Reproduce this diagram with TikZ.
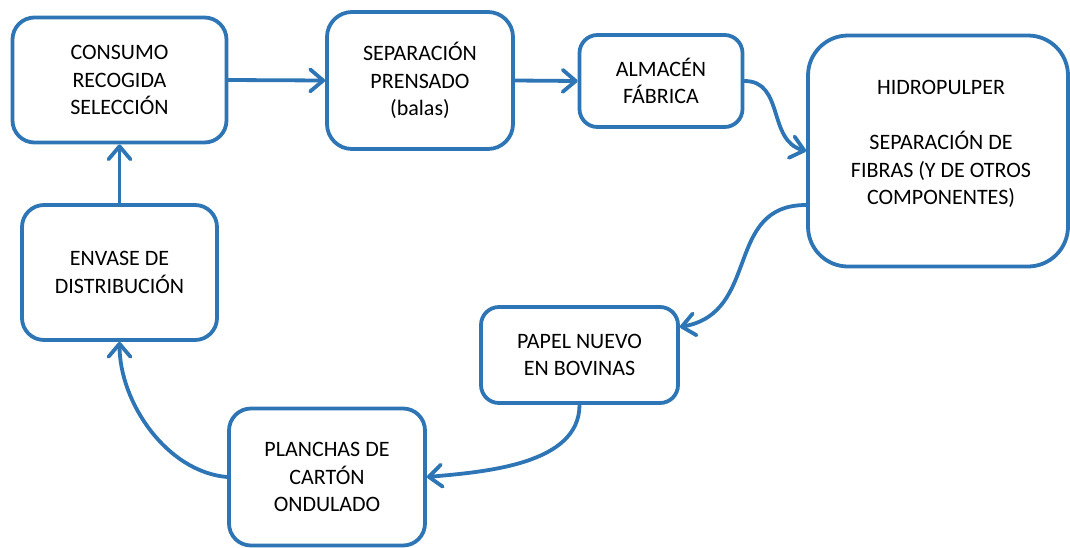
\documentclass[tikz,border=0pt]{standalone}
\usepackage{fontspec}
\setmainfont{Carlito}
\usetikzlibrary{arrows.meta}
\definecolor{flowblue}{HTML}{2E75B6}
\begin{document}
\begin{tikzpicture}[x=1pt,y=-1pt,
  box/.style={draw=flowblue,line width=3.8pt,fill=white,align=center,
    font=\fontsize{22}{27.5}\selectfont,inner sep=0pt},
  txt/.style={align=center,font=\fontsize{22}{27.5}\selectfont,inner sep=0pt},
  flow/.style={draw=flowblue,line width=3.8pt,line cap=round,
    -{Straight Barb[length=13pt,width=22pt,line cap=round,line join=round]}}]
\useasboundingbox (0,0) rectangle (1070,547);
\node[box,minimum width=214pt,minimum height=125pt,rounded corners=22pt] (cons) at (119.5,80) {CONSUMO\\RECOGIDA\\SELECCIÓN};
\node[box,minimum width=186pt,minimum height=137pt,rounded corners=25pt] (sep) at (420,80.5) {SEPARACIÓN\\PRENSADO\\(balas)};
\node[box,minimum width=163pt,minimum height=92pt,rounded corners=18pt] (alm) at (661,81) {ALMACÉN\\FÁBRICA};
\node[box,minimum width=260pt,minimum height=231pt,rounded corners=40pt] (hid) at (938,151) {};
\node[txt] (hidt) at (941,144) {HIDROPULPER\\[27.5pt]SEPARACIÓN DE\\FIBRAS (Y DE OTROS\\COMPONENTES)};
\node[box,minimum width=195pt,minimum height=135pt,rounded corners=22pt] (env) at (119.5,272.5) {ENVASE DE\\DISTRIBUCIÓN};
\node[box,minimum width=197pt,minimum height=96pt,rounded corners=18pt] (pap) at (579.5,355) {PAPEL NUEVO\\EN BOVINAS};
\node[box,minimum width=196pt,minimum height=137pt,rounded corners=22pt] (pla) at (327,477) {PLANCHAS DE\\CARTÓN\\ONDULADO};
\draw[flow] (cons.east) -- (sep.west);
\draw[flow] (sep.east) -- (alm.west);
\draw[flow] (alm.east) to[out=0,in=165,looseness=1.1] (hid.west);
\draw[flow] ([yshift=-54pt]hid.west) to[out=180,in=10,looseness=1.2] ([yshift=28pt]pap.east);
\draw[flow] (pap.south) to[out=-90,in=5,looseness=0.9] (pla.east);
\draw[flow] (pla.west) to[out=175,in=-90,looseness=0.9] (env.south);
\draw[flow] (env.north) -- (cons.south);
\end{tikzpicture}
\end{document}
